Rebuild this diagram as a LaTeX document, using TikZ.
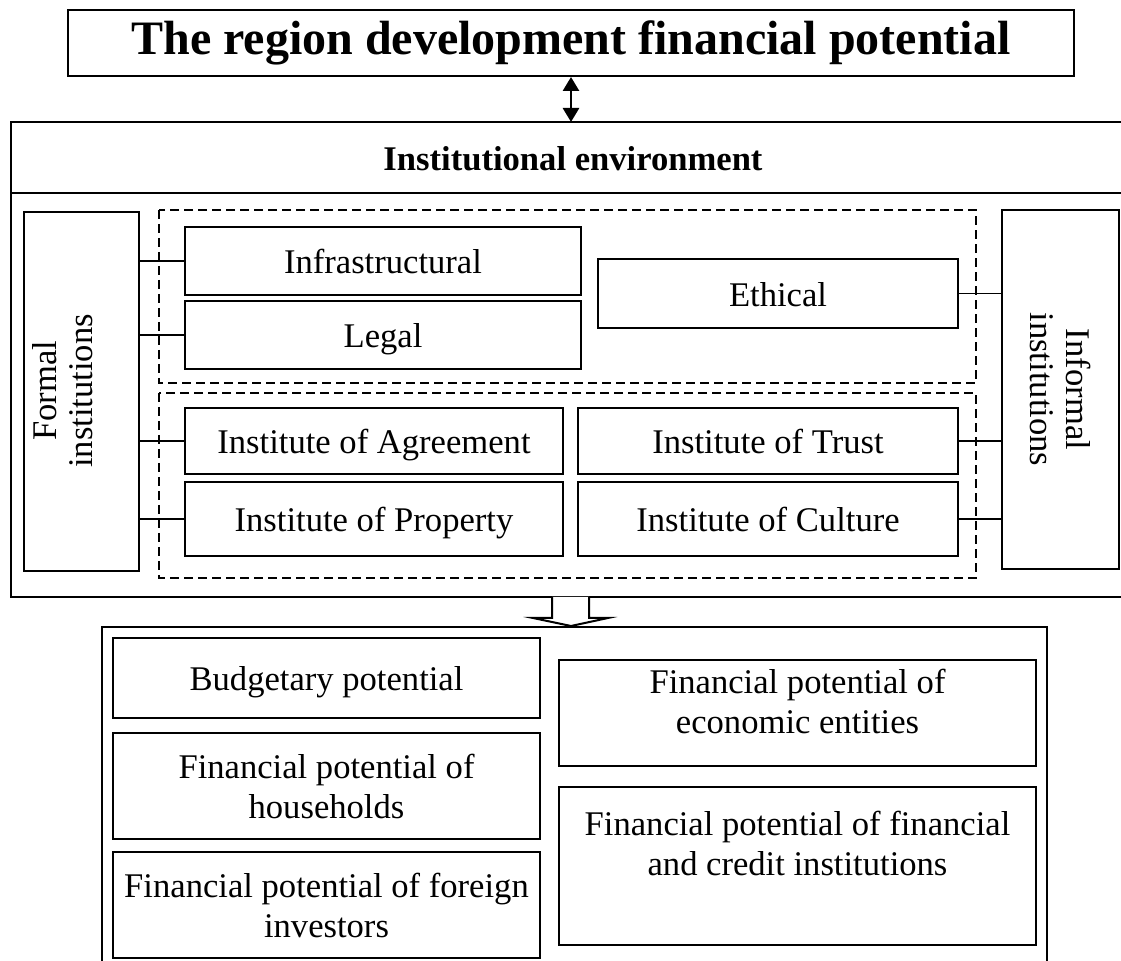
\documentclass[tikz,border=0pt]{standalone}
\usepackage{fontspec}
\setmainfont{Liberation Serif}
\usetikzlibrary{arrows.meta,positioning}

\begin{document}
\begin{tikzpicture}[x=0.5pt,y=-0.5pt,line join=miter,
  font=\fontsize{17.3}{20}\selectfont,
  box/.style={draw,line width=1pt,inner sep=0pt,align=center},
  single/.style={box,text height=14pt,text depth=1pt},
  caption/.style={font=\fontsize{17.3}{20}\selectfont\bfseries},
  link/.style={line width=.6pt},
  group/.style={draw,line width=1pt,dash pattern=on 4.5pt off 2.5pt}]
\path[use as bounding box] (0,0) rectangle (1121,961);
\clip (0,0) rectangle (1121,961);

% top: the financial potential of the region
\node[box,font=\fontsize{24}{28}\selectfont\bfseries,minimum width=503pt,minimum height=33pt] (top) at (571,43) {The region development financial potential};

% institutional environment, open at the right
\draw[line width=1pt] (1140,122) -- (11,122) -- (11,597) -- (1140,597);
\draw[line width=1pt] (11,193) -- (1140,193);
\coordinate (envtop) at (571,122);
\node[caption] (env) at (573,159) {Institutional environment};
\draw[{Triangle[length=7pt,width=8pt]}-{Triangle[length=7pt,width=8pt]},line width=1.4pt] (top.south) -- (envtop);

\node[box,rotate=90,minimum width=179.5pt,minimum height=57.5pt] (formal) at (81.5,391.5) {};
\node[rotate=90,align=center,font=\fontsize{17.3}{18}\selectfont] (formaltext) at (63,391) {Formal\\institutions};
\node[box,rotate=-90,minimum width=179.5pt,minimum height=58.5pt,font=\fontsize{17.3}{18}\selectfont] (informal) at (1060.5,389.5) {Informal\\institutions};

\draw[group] (159,210) rectangle (976,383);
\draw[group] (159,393) rectangle (976,578);

\node[single,minimum width=198pt,minimum height=34pt] (infra) at (383,261) {Infrastructural};
\node[single,minimum width=198pt,minimum height=34pt] (legal) at (383,335) {Legal};
\node[single,minimum width=180pt,minimum height=34.5pt] (ethical) at (778,293.5) {Ethical};
\node[single,minimum width=189pt,minimum height=33pt] (agree) at (374,441) {Institute of Agreement};
\node[single,minimum width=189pt,minimum height=37pt] (property) at (374,519) {Institute of Property};
\node[single,minimum width=190pt,minimum height=33pt] (trust) at (768,441) {Institute of Trust};
\node[single,minimum width=190pt,minimum height=37pt] (culture) at (768,519) {Institute of Culture};

\foreach \n in {infra,legal,agree,property}
  \draw[link] (\n.west -| formal.south) -- (\n.west);
\foreach \n in {ethical,trust,culture}
  \draw[link] (\n.east) -- (\n.east -| informal.south);

% hollow arrow down to the components
\draw[line width=1pt,fill=white] (552,597) -- (552,618) -- (533,618) -- (571,626) -- (608,618) -- (589,618) -- (589,597);

% components of the financial potential
\draw[line width=1pt] (102,1000) -- (102,627) -- (1047,627) -- (1047,1000);
\node[single,minimum width=213.5pt,minimum height=40pt] (budget) at (326.5,678) {Budgetary potential};
\node[box,minimum width=213.5pt,minimum height=53pt] (house) at (326.5,786) {Financial potential of\\households};
\node[box,minimum width=213.5pt,minimum height=53pt] (foreign) at (326.5,905) {Financial potential of foreign\\investors};
\node[box,minimum width=238.5pt,minimum height=53pt] (econ) at (797.5,713) {};
\node[align=center] (econtext) at (797.5,701) {Financial potential of\\economic entities};
\node[box,minimum width=238.5pt,minimum height=79pt] (credit) at (797.5,866) {};
\node[align=center] (credittext) at (797.5,843) {Financial potential of financial\\and credit institutions};
\end{tikzpicture}
\end{document}
